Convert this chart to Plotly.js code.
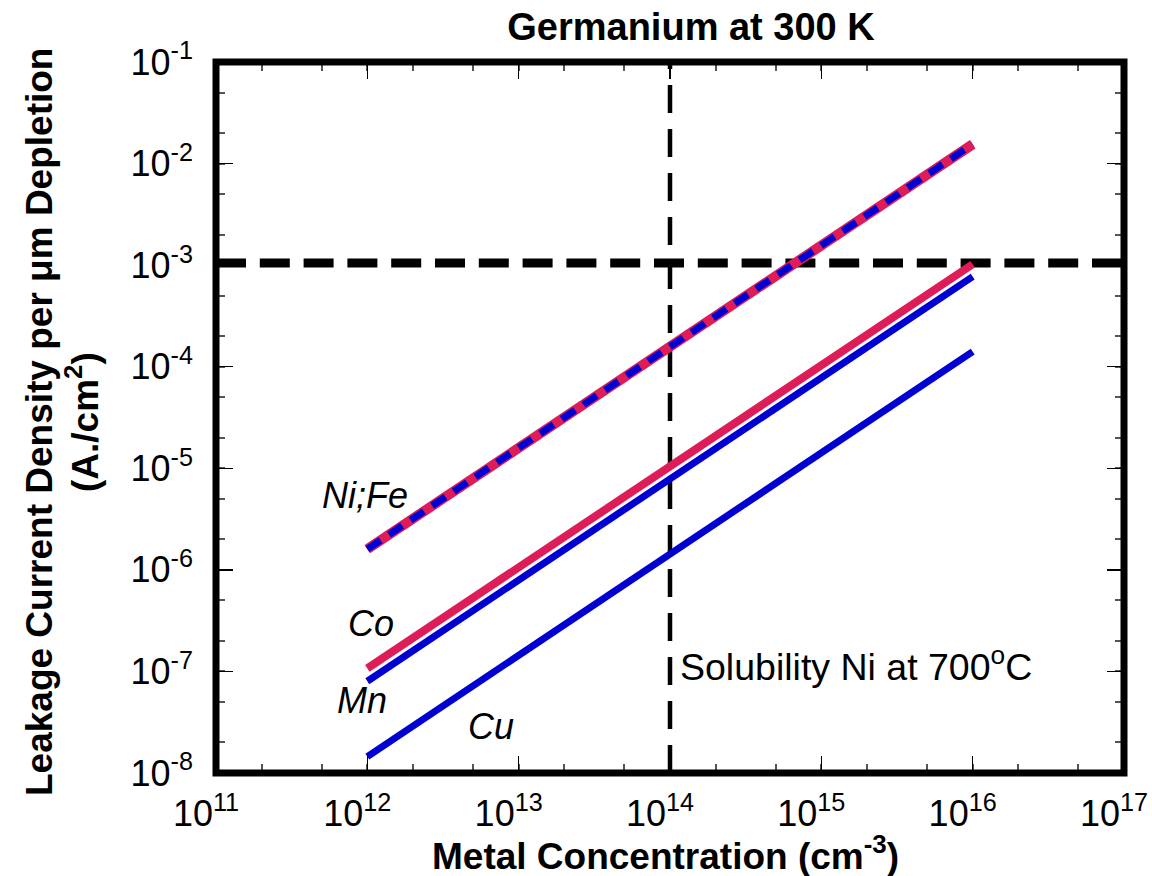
<!DOCTYPE html>
<html>
<head>
<meta charset="utf-8">
<script src="https://cdn.plot.ly/plotly-3.0.1.min.js"></script>
<style>
  html, body { margin: 0; padding: 0; background: #fff; }
  #chart { width: 1152px; height: 876px; }
</style>
</head>
<body>
<div id="chart"></div>
<script>
// Metal concentration (cm^-3)
const concentration = [1e12, 1e13, 1e14, 1e15, 1e16];

// Leakage current density per µm depletion (A/cm^2) for each metal
const niFe = [1.6e-6, 1.6e-5, 1.55e-4, 1.55e-3, 1.55e-2];
const co   = [1.07e-7, 1.06e-6, 1.05e-5, 1.03e-4, 1.02e-3];
const mn   = [8.0e-8, 7.9e-7, 7.8e-6, 7.8e-5, 7.7e-4];
const cu   = [1.45e-8, 1.44e-7, 1.43e-6, 1.42e-5, 1.41e-4];

// Reference levels: current limit and Ni solubility at 700 °C
const limitX = [1e11, 1e17];
const limitY = [1.05e-3, 1.05e-3];
const solX = [1e14, 1e14];
const solY = [1e-8, 1e-1];

// Axis ticks (trailing no-break spaces nudge the x labels slightly left)
const xTickVals = [1e11, 1e12, 1e13, 1e14, 1e15, 1e16, 1e17];
const xTickText = ['10<sup>11</sup>', '10<sup>12</sup>', '10<sup>13</sup>', '10<sup>14</sup>',
                   '10<sup>15</sup>', '10<sup>16</sup>', '10<sup>17</sup>'].map(t => t + '&nbsp;&nbsp;');
const yTickVals = [1e-8, 1e-7, 1e-6, 1e-5, 1e-4, 1e-3, 1e-2, 1e-1];
const yTickText = ['10<sup>-8</sup>', '10<sup>-7</sup>', '10<sup>-6</sup>', '10<sup>-5</sup>',
                   '10<sup>-4</sup>', '10<sup>-3</sup>', '10<sup>-2</sup>', '10<sup>-1</sup>'];

const RED = 'rgb(222,28,88)';
const BLUE = 'rgb(0,0,210)';
const FONT = 'Liberation Sans, Arial, sans-serif';

const traces = [
  { x: limitX, y: limitY, mode: 'lines', line: { color: '#000', width: 9, dash: '30px,13.8px' } },
  { x: solX, y: solY, mode: 'lines', line: { color: '#000', width: 4.5, dash: '28px,16px' } },
  { x: concentration, y: cu, mode: 'lines', line: { color: BLUE, width: 7 } },
  { x: concentration, y: mn, mode: 'lines', line: { color: BLUE, width: 7 } },
  { x: concentration, y: co, mode: 'lines', line: { color: RED, width: 8 } },
  { x: concentration, y: niFe, mode: 'lines', line: { color: RED, width: 10 } },
  { x: concentration, y: niFe, mode: 'lines', line: { color: BLUE, width: 7, dash: '16px,10px' } }
];

const L = 216, R = 28, T = 62, B = 103;
const W = 1152 - L - R, H = 876 - T - B;
// pixel -> paper helpers for text placement
const px = v => (v - L) / W;
const py = v => (876 - B - v) / H;

const axisCommon = {
  type: 'log',
  showgrid: false,
  zeroline: false,
  showline: false,
  ticks: 'inside',
  ticklen: 17,
  tickwidth: 1.5,
  tickcolor: '#000',
  mirror: 'ticks',
  ticklabeloverflow: 'allow',
  tickfont: { family: FONT, size: 36, color: '#000' },
  minor: { ticks: 'inside', ticklen: 9, tickwidth: 2, tickcolor: '#555', showgrid: false }
};

const layout = {
  width: 1152,
  height: 876,
  margin: { l: L, r: R, t: T, b: B },
  paper_bgcolor: '#fff',
  plot_bgcolor: '#fff',
  showlegend: false,
  hovermode: false,
  title: {
    text: '<b>Germanium at 300 K</b>',
    font: { family: FONT, size: 38, color: '#000' },
    xref: 'paper', x: px(691), xanchor: 'center',
    yref: 'container', y: 1 - 27 / 876, yanchor: 'middle'
  },
  xaxis: Object.assign({}, axisCommon, {
    range: [11, 17],
    tickvals: xTickVals, ticktext: xTickText,
    ticklabelstandoff: 16
  }),
  yaxis: Object.assign({}, axisCommon, {
    range: [-8, -1],
    tickvals: yTickVals, ticktext: yTickText,
    ticklabelstandoff: 22
  }),
  shapes: [
    { type: 'rect', xref: 'paper', yref: 'paper', x0: 0, x1: 1, y0: 0, y1: 1,
      line: { color: '#000', width: 7 }, layer: 'above' }
  ],
  annotations: [
    { text: '<b>Metal Concentration (cm<sup>-3</sup>)</b>', xref: 'paper', yref: 'paper',
      x: px(665), y: py(853), xanchor: 'center', yanchor: 'middle', showarrow: false,
      font: { family: FONT, size: 37, color: '#000' } },
    { text: '<b>Leakage Current Density per μm Depletion</b>', xref: 'paper', yref: 'paper',
      x: px(39), y: py(422), xanchor: 'center', yanchor: 'middle', textangle: -90, showarrow: false,
      font: { family: FONT, size: 37, color: '#000' } },
    { text: '<b>(A./cm<sup>2</sup>)</b>', xref: 'paper', yref: 'paper',
      x: px(82), y: py(422), xanchor: 'center', yanchor: 'middle', textangle: -90, showarrow: false,
      font: { family: FONT, size: 37, color: '#000' } },
    { text: '<i>Ni;Fe</i>', xref: 'paper', yref: 'paper', x: px(365), y: py(495),
      xanchor: 'center', yanchor: 'middle', showarrow: false,
      font: { family: FONT, size: 36, color: '#000' } },
    { text: '<i>Co</i>', xref: 'paper', yref: 'paper', x: px(371), y: py(623),
      xanchor: 'center', yanchor: 'middle', showarrow: false,
      font: { family: FONT, size: 36, color: '#000' } },
    { text: '<i>Mn</i>', xref: 'paper', yref: 'paper', x: px(362), y: py(700),
      xanchor: 'center', yanchor: 'middle', showarrow: false,
      font: { family: FONT, size: 36, color: '#000' } },
    { text: '<i>Cu</i>', xref: 'paper', yref: 'paper', x: px(491), y: py(726),
      xanchor: 'center', yanchor: 'middle', showarrow: false,
      font: { family: FONT, size: 36, color: '#000' } },
    { text: 'Solubility Ni at 700<sup>o</sup>C', xref: 'paper', yref: 'paper', x: px(678), y: py(664),
      xanchor: 'left', yanchor: 'middle', showarrow: false,
      font: { family: FONT, size: 37.5, color: '#000' } }
  ]
};

Plotly.newPlot('chart', traces, layout, { displayModeBar: false, staticPlot: true });
</script>
</body>
</html>
